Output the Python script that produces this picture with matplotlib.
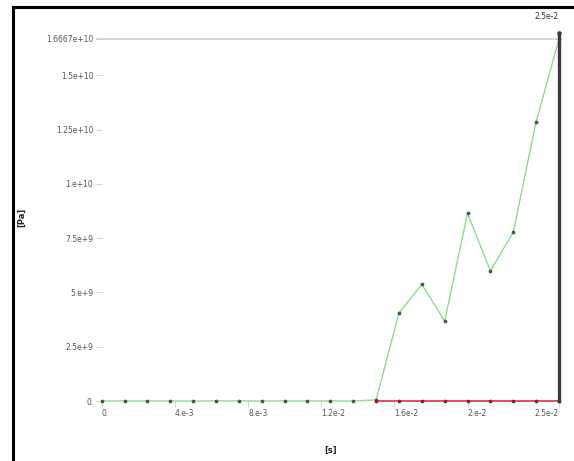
import matplotlib
matplotlib.use("Agg")
import matplotlib.pyplot as plt
from matplotlib.lines import Line2D
import matplotlib.transforms as mtransforms

# Time steps [s]
time_s = [0.0, 0.00125, 0.0025, 0.00375, 0.005, 0.00625, 0.0075, 0.00875,
          0.01, 0.01125, 0.0125, 0.01375, 0.015, 0.01625, 0.0175, 0.01875,
          0.02, 0.02125, 0.0225, 0.02375, 0.025]

# Maximum stress [Pa]
max_pa = [0, 0, 0, 0, 0, 0, 0, 0, 0, 0, 0, 0, 5.0e7,
          4.05e9, 5.37e9, 3.68e9, 8.64e9, 5.99e9, 7.77e9, 1.286e10, 1.6667e10]

# Minimum stress [Pa] (reported from step 13 on)
min_time_s = time_s[12:]
min_pa = [0, 0, 0, 0, 0, 0, 0, 0, 0]

x_ticks = [0.0, 0.004, 0.008, 0.012, 0.016, 0.02, 0.025]
x_tick_labels = ["0.", "4.e-3", "8.e-3", "1.2e-2", "1.6e-2", "2.e-2", "2.5e-2"]
y_ticks = [0, 2.5e9, 5e9, 7.5e9, 1e10, 1.25e10, 1.5e10, 1.6667e10]
y_tick_labels = ["0.", "2.5e+9", "5.e+9", "7.5e+9", "1.e+10", "1.25e+10",
                 "1.5e+10", "1.6667e+10"]

cursor_t = 0.025
cursor_label = "2.5e-2"

W, H = 574, 461
fig = plt.figure(figsize=(W / 100, H / 100), dpi=100)
fig.patch.set_facecolor("white")

ax = fig.add_axes([101.7 / W, (H - 401) / H, 457.3 / W, 362 / H])
ax.set_xlim(0, 0.025)
ax.set_ylim(0, 1.6667e10)
for s in ax.spines.values():
    s.set_visible(False)

txt_color = "#555555"
ax.set_xticks(x_ticks)
ax.set_xticklabels(x_tick_labels, fontsize=5.5, color=txt_color)
for i, lab in enumerate(ax.get_xticklabels()):
    lab.set_ha("right" if i == len(x_tick_labels) - 1 else "left")
ax.set_yticks(y_ticks)
ax.set_yticklabels(y_tick_labels, fontsize=5.5, color=txt_color)
ax.tick_params(axis="both", colors="#cccccc", length=4, width=0.6,
               labelcolor=txt_color, pad=2)

# Maximum line across the top
ax.axhline(1.6667e10, xmin=-0.01, xmax=0.995, color="#d0d0d0", lw=1.2,
           clip_on=False, zorder=1)

ax.plot(time_s, max_pa, color="#8ddc8d", lw=1.0, marker="o", ms=1.7,
        mfc="#4a5a4a", mec="#4a5a4a", clip_on=False, zorder=3)
ax.plot(min_time_s, min_pa, color="#e0304a", lw=1.2, marker="o", ms=1.7,
        mfc="#8a2030", mec="#8a2030", clip_on=False, zorder=4)

# Cursor at the last time step
trans = mtransforms.blended_transform_factory(ax.transData, ax.transAxes)
ax.add_line(Line2D([cursor_t, cursor_t], [0, 1.017], transform=trans,
                   color="#3a3a3a", lw=2.4, clip_on=False, zorder=5))
ax.plot([cursor_t], [1.017], transform=trans, marker="o", ms=2.2,
        color="#3a3a3a", clip_on=False, zorder=6)
ax.text(cursor_t, 1.05, cursor_label, transform=trans, ha="right",
        va="bottom", fontsize=5.5, color="#333333")

ax.set_xlabel("[s]", fontsize=6, fontweight="bold", color="#222222", labelpad=20)
fig.text(22 / W, 1 - 217 / H, "[Pa]", rotation=90, ha="center", va="center",
         fontsize=6, fontweight="bold", color="#222222")

# Outer frame (left and top edges)
fig.add_artist(Line2D([13 / W, 13 / W], [0, 1 - 7 / H], color="black", lw=2.2,
                      transform=fig.transFigure))
fig.add_artist(Line2D([13 / W, 1], [1 - 7 / H, 1 - 7 / H], color="black",
                      lw=2.2, transform=fig.transFigure))

fig.savefig("out.png", dpi=100)
